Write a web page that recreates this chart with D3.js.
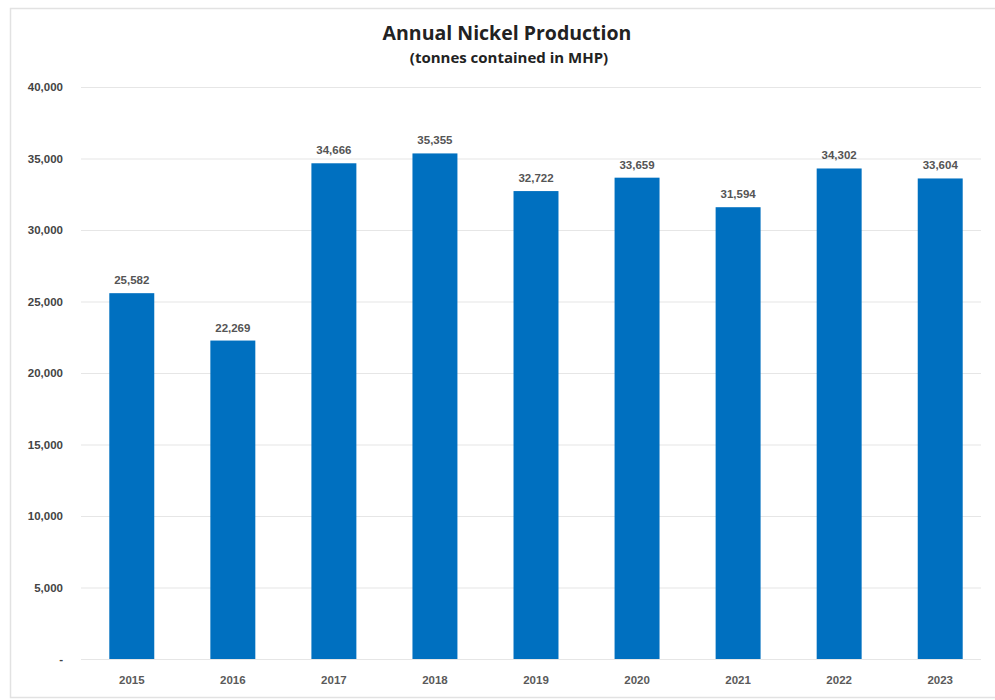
<!DOCTYPE html>
<html><head><meta charset="utf-8">
<script src="https://cdn.jsdelivr.net/npm/d3@7"></script>
<style>html,body{margin:0;padding:0;background:#fff;}svg{display:block;}</style>
</head><body>
<svg id="chart" width="995" height="700"></svg>
<script>
const categories = ["2015","2016","2017","2018","2019","2020","2021","2022","2023"];
const values = [25582, 22269, 34666, 35355, 32722, 33659, 31594, 34302, 33604];
const yTicks = [0, 5000, 10000, 15000, 20000, 25000, 30000, 35000, 40000];
const title = "Annual Nickel Production";
const subtitle = "(tonnes contained in MHP)";

const svg = d3.select("#chart");
const W = 995, H = 700;
const m = {left: 81, right: 4, top: 87, bottom: 41};

svg.append("rect").attr("x", 10.5).attr("y", 8.5).attr("width", 1000).attr("height", 689)
  .attr("fill", "#fff").attr("stroke", "#e2e2e2").attr("stroke-width", 1.5);

const x = d3.scaleBand().domain(categories).range([m.left, W - m.right]).paddingInner(0.555).paddingOuter(0.28);
const y = d3.scaleLinear().domain([0, 40000]).range([H - m.bottom, m.top]);

const fmt = d3.format(",");

const yAxis = svg.append("g").attr("transform", `translate(${m.left},0)`)
  .call(d3.axisLeft(y).tickValues(yTicks).tickSize(-(W - m.right - m.left) + 10).tickPadding(18)
    .tickFormat(d => d === 0 ? "-" : fmt(d)));
yAxis.select(".domain").remove();
yAxis.selectAll(".tick line").attr("stroke", "#e6e6e6").attr("stroke-width", 1.2);
yAxis.selectAll(".tick text").attr("font-family", "Liberation Sans, Arial, sans-serif")
  .attr("font-size", 11.5).attr("font-weight", "bold").attr("fill", "#444");

svg.append("g").selectAll("rect.bar").data(values).join("rect").attr("class", "bar")
  .attr("x", (d, i) => x(categories[i]))
  .attr("width", x.bandwidth())
  .attr("y", d => y(d))
  .attr("height", d => y(0) - y(d))
  .attr("fill", "#0070C0");

svg.append("g").selectAll("text").data(values).join("text")
  .attr("x", (d, i) => x(categories[i]) + x.bandwidth() / 2)
  .attr("y", d => y(d) - 9)
  .attr("text-anchor", "middle")
  .attr("font-family", "Liberation Sans, Arial, sans-serif")
  .attr("font-size", 11.5).attr("font-weight", "bold").attr("fill", "#555")
  .text(d => fmt(d));

const xAxis = svg.append("g").attr("transform", `translate(0,${H - m.bottom})`)
  .call(d3.axisBottom(x).tickSize(0).tickPadding(17));
xAxis.select(".domain").remove();
xAxis.selectAll(".tick text").attr("font-family", "Liberation Sans, Arial, sans-serif")
  .attr("font-size", 11.5).attr("font-weight", "bold").attr("fill", "#5a5a5a");

svg.append("text").attr("x", 507).attr("y", 40).attr("text-anchor", "middle")
  .attr("font-family", "Open Sans, sans-serif").attr("font-weight", "bold").attr("font-size", 19.5)
  .attr("fill", "#222").text(title);
svg.append("text").attr("x", 509).attr("y", 63).attr("text-anchor", "middle")
  .attr("font-family", "Open Sans, sans-serif").attr("font-weight", "bold").attr("font-size", 15)
  .attr("fill", "#222").text(subtitle);
</script>
</body></html>
